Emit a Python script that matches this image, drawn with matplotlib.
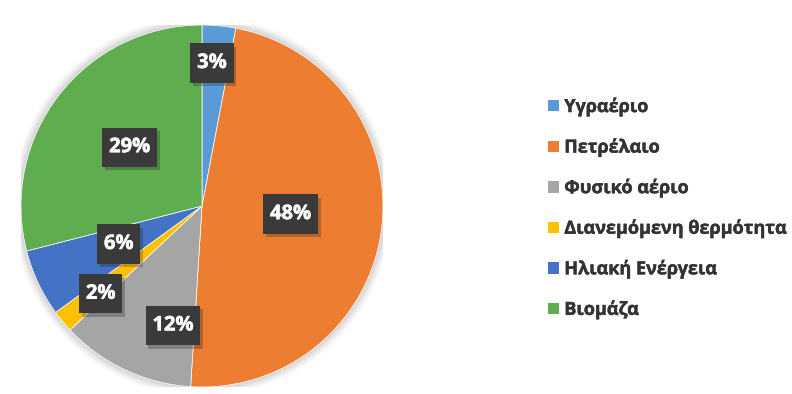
import matplotlib
matplotlib.use("Agg")
import matplotlib.pyplot as plt
import matplotlib.patheffects as pe
from matplotlib.patches import Circle
from matplotlib.path import Path
import numpy as np

categories = ["Υγραέριο", "Πετρέλαιο", "Φυσικό αέριο",
              "Διανεμόμενη θερμότητα", "Ηλιακή Ενέργεια", "Βιομάζα"]
shares = [3, 48, 12, 2, 6, 29]
colors = ["#5B9BD5", "#ED7D31", "#A5A5A5", "#FFC000", "#4472C4", "#5FAD4E"]

# placement of each percentage box, in units of the pie radius
label_xy = [(0.055, 0.79), (0.49, -0.045), (-0.16, -0.66),
            (-0.56, -0.485), (-0.46, -0.21), (-0.40, 0.325)]

plt.rcParams["font.family"] = ["Open Sans", "DejaVu Sans"]


def label_box(x0, y0, width, height, mutation_size):
    """Rectangle with separate horizontal and vertical padding."""
    px, py = 0.34 * mutation_size, 0.48 * mutation_size
    x0, x1 = x0 - px, x0 + width + px
    y0, y1 = y0 - py, y0 + height + py
    return Path([(x0, y0), (x1, y0), (x1, y1), (x0, y1), (x0, y0)], closed=True)


fig = plt.figure(figsize=(7.92, 3.94), dpi=100)
fig.patch.set_facecolor("white")

cx, cy, r = 202, 206, 181
W, H = 792, 394
ax = fig.add_axes([(cx - r) / W, (H - cy - r) / H, 2 * r / W, 2 * r / H])

# soft halo around the pie
for k, a in zip(np.linspace(1.05, 1.0, 8), np.linspace(0.03, 0.08, 8)):
    ax.add_patch(Circle((0, 0), k, color="#808080", alpha=a, lw=0, zorder=0))

wedges, _ = ax.pie(shares, colors=colors, startangle=90, counterclock=False,
                   radius=1, wedgeprops=dict(edgecolor="white", linewidth=0.5))
for w in wedges:
    w.set_zorder(1)

bold_white = [pe.withStroke(linewidth=0.35, foreground="white")]
for val, (lx, ly) in zip(shares, label_xy):
    t = ax.text(lx, ly, f"{val}%", ha="center", va="center", color="white",
                fontsize=14.5, fontweight="bold", zorder=3,
                path_effects=bold_white,
                bbox=dict(boxstyle=label_box, fc="#3A3A3A", ec="none"))
    t.get_bbox_patch().set_path_effects(
        [pe.SimplePatchShadow(offset=(2, -2.5), alpha=0.25), pe.Normal()])

ax.set_xlim(-1, 1)
ax.set_ylim(-1, 1)
ax.set_aspect("equal")
ax.axis("off")

leg = fig.legend(wedges, categories, loc="upper left",
                 bbox_to_anchor=(539 / W, 1 - 89 / H), frameon=False,
                 fontsize=13, handlelength=0.6, handleheight=0.6,
                 handletextpad=0.3, labelspacing=1.25, borderpad=0)
for t in leg.get_texts():
    t.set_fontweight("bold")
    t.set_color("#333333")
    t.set_path_effects([pe.withStroke(linewidth=0.3, foreground="#333333")])
for h in leg.legend_handles:
    h.set_edgecolor("none")

fig.savefig("out.png", dpi=100, facecolor="white")
